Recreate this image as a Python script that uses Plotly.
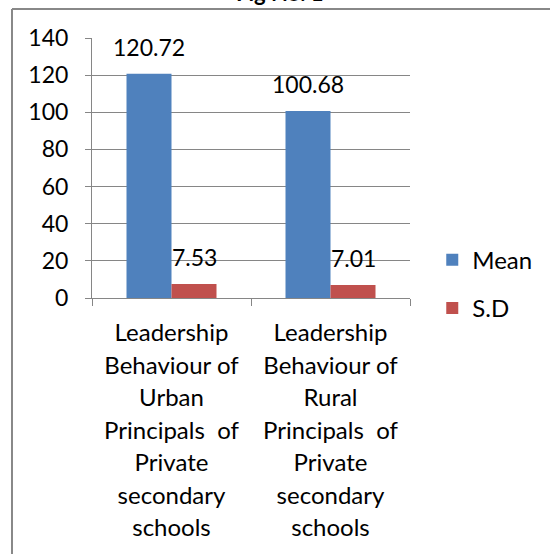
import plotly.graph_objects as go

# Values
categories = [
    "Leadership<br>Behaviour of<br>Urban<br>Principals\u00a0\u00a0of<br>Private<br>secondary<br>schools",
    "Leadership<br>Behaviour of<br>Rural<br>Principals\u00a0\u00a0of<br>Private<br>secondary<br>schools",
]
mean_values = [120.72, 100.68]
sd_values = [7.53, 7.01]
series_names = ["Mean", "S.D"]
y_ticks = [0, 20, 40, 60, 80, 100, 120, 140]

BLUE = "#4F81BD"
RED = "#C0504D"
GRID = "#868686"
FONT = "Lato"


def spaced(label):
    # keep line height of a 25px font while drawing glyphs at 24px
    return "<br>".join(
        f"<span style='font-size:24px'>{line}</span>" for line in label.split("<br>")
    )


tick_text = [spaced(c) for c in categories]

fig = go.Figure()
for name, vals, color in zip(series_names, [mean_values, sd_values], [BLUE, RED]):
    fig.add_trace(
        go.Bar(
            x=categories,
            y=vals,
            name=name,
            legendgroup=name,
            marker=dict(color=color, line=dict(width=0)),
        )
    )

# data labels above each bar
for vals, shift in zip([mean_values, sd_values], [-22.5, 22.5]):
    for cat, v in zip(categories, vals):
        fig.add_annotation(
            x=cat, y=v, xref="x", yref="y",
            text=f"{v:.2f}", showarrow=False,
            xshift=shift, yshift=27, yanchor="middle",
            font=dict(family=FONT, size=23, color="black"),
        )

# title (mostly cut off at the top of the picture)
fig.add_annotation(
    x=0.591, y=1.175, xref="paper", yref="paper",
    text="<b>Fig No. 1</b>", showarrow=False, yanchor="middle",
    font=dict(family=FONT, size=22, color="black"),
)

# outer chart frame (left and top edges visible)
frame = dict(color="#888888", width=2)
fig.add_shape(type="line", xref="paper", yref="paper",
              x0=-0.2516, x1=-0.2516, y0=-1.1, y1=1.1115, line=frame)
fig.add_shape(type="line", xref="paper", yref="paper",
              x0=-0.2516, x1=1.5, y0=1.1115, y1=1.1115, line=frame)

fig.update_layout(
    width=550,
    height=554,
    autosize=False,
    margin=dict(l=92, r=140, t=38, b=256, pad=0),
    paper_bgcolor="white",
    plot_bgcolor="white",
    barmode="group",
    bargap=0.434,
    bargroupgap=0,
    font=dict(family=FONT, size=22, color="black"),
    showlegend=True,
    legend=dict(
        x=1.07, y=0.232, xanchor="left", yanchor="top",
        font=dict(family=FONT, size=24, color="black"),
        tracegroupgap=14, traceorder="grouped",
        bgcolor="rgba(0,0,0,0)",
    ),
    xaxis=dict(
        type="category",
        tickmode="array",
        tickvals=categories,
        ticktext=tick_text,
        tickson="boundaries",
        ticks="outside",
        ticklen=7,
        tickcolor=GRID,
        showline=True,
        linecolor=GRID,
        linewidth=1,
        showgrid=False,
        ticklabelstandoff=12,
        tickfont=dict(family=FONT, size=25, color="black"),
    ),
    yaxis=dict(
        range=[0, 140],
        tickmode="array",
        tickvals=y_ticks,
        ticks="outside",
        ticklen=6,
        tickcolor=GRID,
        showline=True,
        linecolor=GRID,
        linewidth=1,
        showgrid=True,
        gridcolor=GRID,
        gridwidth=1,
        zeroline=False,
        ticklabelstandoff=12,
        tickfont=dict(family=FONT, size=23, color="black"),
    ),
)

# the page body has a default 8px margin; drop it so the figure fills the window
fig.write_html(
    "out.html",
    config={"displayModeBar": False},
    post_script="document.body.style.margin='0';document.body.style.overflow='hidden';",
)
